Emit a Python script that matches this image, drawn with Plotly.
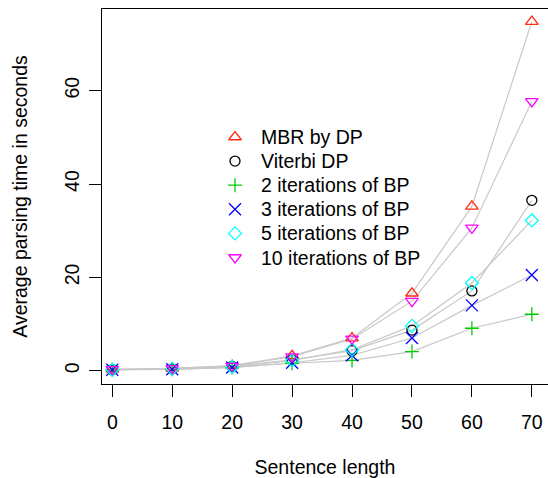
import plotly.graph_objects as go

lengths = [0, 10, 20, 30, 40, 50, 60, 70]
mbr_dp = [0.3, 0.5, 1.1, 3.2, 7.0, 16.6, 35.2, 74.8]
viterbi_dp = [0.2, 0.4, 0.9, 2.3, 4.3, 8.7, 17.1, 36.5]
bp_2 = [0.2, 0.3, 0.7, 1.6, 2.2, 4.1, 9.1, 12.1]
bp_3 = [0.2, 0.3, 0.7, 1.7, 3.3, 7.0, 14.0, 20.5]
bp_5 = [0.2, 0.4, 0.8, 2.2, 4.5, 9.6, 18.8, 32.2]
bp_10 = [0.3, 0.5, 1.0, 3.0, 6.8, 14.9, 30.6, 57.7]

names = ["MBR by DP", "Viterbi DP", "2 iterations of BP", "3 iterations of BP",
         "5 iterations of BP", "10 iterations of BP"]
series = [mbr_dp, viterbi_dp, bp_2, bp_3, bp_5, bp_10]
colors = ["#FF2A10", "#000000", "#00CD00", "#0000FF", "#00FFFF", "#FF00FF"]
symbols = ["triangle-up-open", "circle-open", "cross-thin-open", "x-thin-open",
           "diamond-open", "triangle-down-open"]
sizes = [11, 10, 10, 12, 10, 11]

W, H = 548, 478
ML, MR, MT, MB = 102, 0, 9, 94
FONT = "Liberation Sans, Arial, sans-serif"
FS = 19.5

fig = go.Figure()

for vals in series:
    fig.add_trace(go.Scatter(x=lengths, y=vals, mode="lines",
                             line=dict(color="#c8c8c8", width=1.2),
                             showlegend=False, hoverinfo="skip"))

for name, vals, c, s, sz in zip(names, series, colors, symbols, sizes):
    fig.add_trace(go.Scatter(x=lengths, y=vals, mode="markers", name=name,
                             showlegend=False,
                             marker=dict(symbol=s, color=c, size=sz,
                                         line=dict(color=c, width=1.3))))

# Legend drawn in a pixel-based overlay axis (no box, R-style)
leg_x_sym = 235
leg_x_txt = 259
leg_y0 = 137
leg_dy = 24.1
for i, (name, c, s, sz) in enumerate(zip(names, colors, symbols, sizes)):
    yy = leg_y0 + i * leg_dy
    fig.add_trace(go.Scatter(x=[leg_x_sym], y=[yy], mode="markers",
                             xaxis="x2", yaxis="y2", showlegend=False,
                             hoverinfo="skip",
                             marker=dict(symbol=s, color=c, size=sz,
                                         line=dict(color=c, width=1.3))))
    fig.add_annotation(x=leg_x_txt, y=yy, xref="x2", yref="y2", text=name,
                       showarrow=False, xanchor="left", yanchor="middle",
                       font=dict(family=FONT, size=FS, color="black"))

fig.update_layout(
    width=W, height=H,
    margin=dict(l=ML, r=MR, t=MT, b=MB, pad=0),
    paper_bgcolor="white", plot_bgcolor="white",
    font=dict(family=FONT, size=FS, color="black"),
    showlegend=False,
    xaxis=dict(range=[-1.72, 72.7], tickvals=[0, 10, 20, 30, 40, 50, 60, 70],
               showgrid=False, zeroline=False, showline=True, mirror=True,
               linecolor="black", linewidth=1.2, ticks="outside", ticklen=12,
               tickwidth=1.2, tickcolor="black", ticklabelstandoff=8,
               title=dict(text="Sentence length", standoff=32,
                          font=dict(family=FONT, size=FS))),
    yaxis=dict(range=[-2.85, 77.5], tickvals=[0, 20, 40, 60], tickangle=-90,
               showgrid=False, zeroline=False, showline=True, mirror=False,
               linecolor="black", linewidth=1.2, ticks="outside", ticklen=12,
               tickwidth=1.2, tickcolor="black", ticklabelstandoff=2,
               title=dict(text="Average parsing time in seconds", standoff=28,
                          font=dict(family=FONT, size=FS))),
    xaxis2=dict(overlaying="x", range=[ML, W - MR], visible=False,
                showgrid=False, zeroline=False),
    yaxis2=dict(overlaying="y", range=[H - MB, MT], visible=False,
                showgrid=False, zeroline=False),
)

fig.write_html("out.html", config={"displayModeBar": False},
               post_script="document.body.style.margin='0';")
